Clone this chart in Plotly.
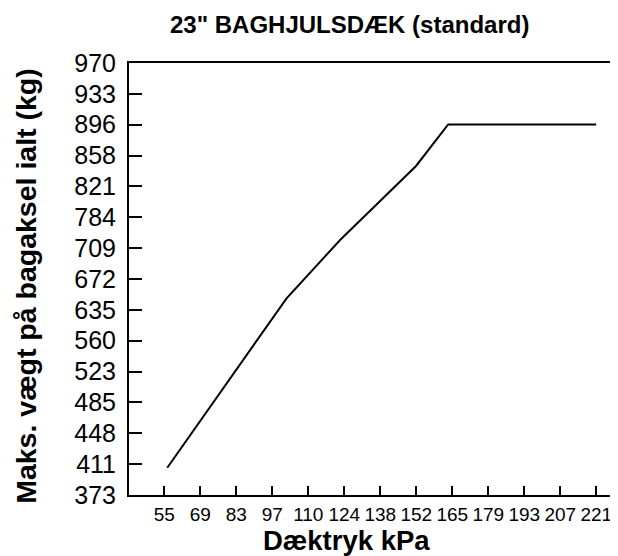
import numpy as np
import plotly.graph_objects as go

# Data
pressure_kpa = [56.3, 102.0, 122.5, 151.6, 163.9, 220.6]
max_load_kg = [410.7, 644.8, 725.4, 827.7, 885.0, 885.0]

# Tick labels
x_tick_psi = [8, 10, 12, 14, 16, 18, 20, 22, 24, 26, 28, 30, 32]
x_tick_labels = ["55", "69", "83", "97", "110", "124", "138", "152",
                 "165", "179", "193", "207", "221"]
y_tick_labels = ["373", "411", "448", "485", "523", "560", "635", "672",
                 "709", "784", "821", "858", "896", "933", "970"]

x_tick_vals = [p * 6.894757 for p in x_tick_psi]
y_tick_vals = list(np.linspace(373, 970, len(y_tick_labels)))

FONT = "Liberation Sans, Arial, sans-serif"

fig = go.Figure()
fig.add_trace(go.Scatter(
    x=pressure_kpa, y=max_load_kg, mode="lines",
    line=dict(color="black", width=2), showlegend=False,
    hoverinfo="skip"))

fig.update_layout(
    width=618, height=556,
    margin=dict(l=121, r=8, t=55, b=69),
    paper_bgcolor="white", plot_bgcolor="white",
    font=dict(family=FONT, color="black"),
    xaxis=dict(range=[41.64, 228.96], showgrid=False, zeroline=False,
               showline=True, linecolor="black", linewidth=2, mirror=True,
               ticks="inside", ticklen=9, tickwidth=2, tickcolor="black",
               tickvals=x_tick_vals, ticktext=x_tick_labels, tickangle=0,
               tickfont=dict(size=19, family=FONT, color="black"),
               ticklabelstandoff=1, automargin=False),
    yaxis=dict(range=[373, 970], showgrid=False, zeroline=False,
               showline=True, linecolor="black", linewidth=2, mirror=False,
               ticks="inside", ticklen=13, tickwidth=2, tickcolor="black",
               tickvals=y_tick_vals, ticktext=y_tick_labels,
               tickfont=dict(size=25, family=FONT, color="black"),
               ticklabelstandoff=6, automargin=False),
    annotations=[
        dict(text="<b>23\" BAGHJULSDÆK (standard)</b>", xref="paper", yref="paper",
             x=0.45, y=1.090, xanchor="center", yanchor="middle", showarrow=False,
             font=dict(size=24, family=FONT, color="black")),
        dict(text="<b>Dæktryk kPa</b>", xref="paper", yref="paper",
             x=0.4448, y=-0.105, xanchor="center", yanchor="middle", showarrow=False,
             font=dict(size=27.5, family=FONT, color="black")),
        dict(text="<b>Maks. vægt på bagaksel ialt (kg)</b>", xref="paper", yref="paper",
             x=-0.211, y=0.4838, xanchor="center", yanchor="middle", showarrow=False,
             textangle=-90, font=dict(size=28.5, family=FONT, color="black")),
    ],
)

fig.write_html("out.html")
